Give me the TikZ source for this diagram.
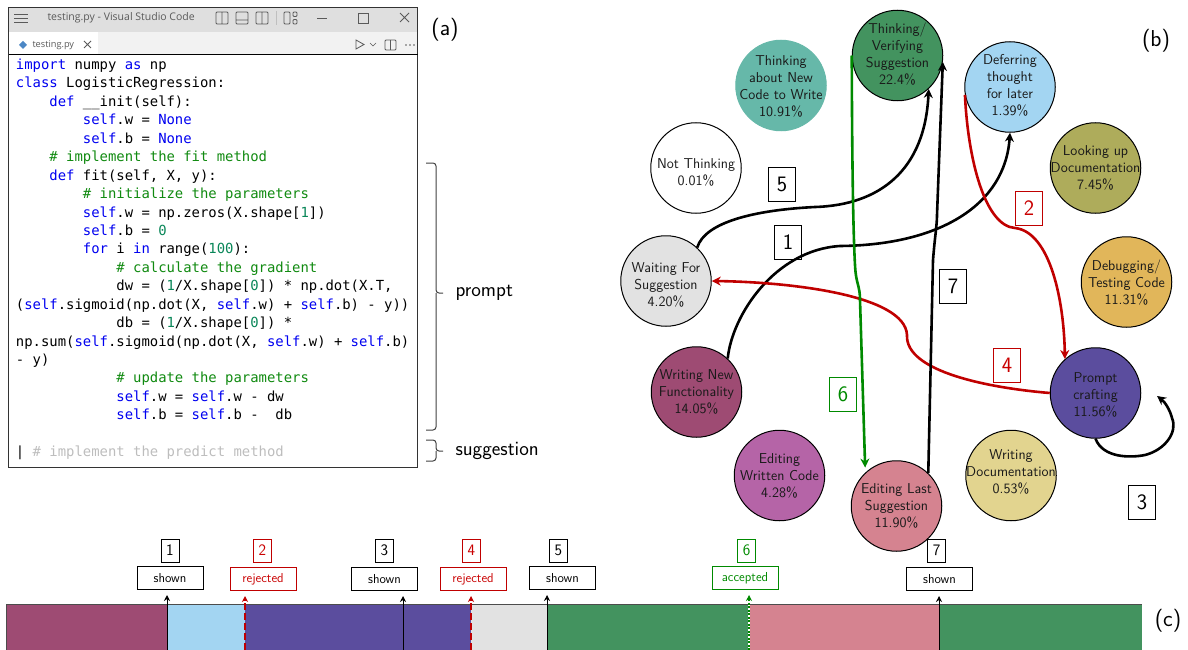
\documentclass[tikz,border=0pt]{standalone}
\usepackage{fontspec}
\usepackage{tikz}
\usetikzlibrary{
	arrows.meta,
	positioning
}
\newfontfamily\codeFont{DejaVu Sans Mono}
\newfontfamily\uiFont{Open Sans}
\definecolor{stTeal}{HTML}{66B8A9}
\definecolor{stGreen}{HTML}{43935F}
\definecolor{stBlue}{HTML}{A3D5F2}
\definecolor{stOlive}{HTML}{AEAC5B}
\definecolor{stGold}{HTML}{E1B65A}
\definecolor{stIndigo}{HTML}{5B4D9E}
\definecolor{stKhaki}{HTML}{E2D48F}
\definecolor{stPink}{HTML}{D58390}
\definecolor{stOrchid}{HTML}{B564A7}
\definecolor{stMaroon}{HTML}{9E4B73}
\definecolor{stGray}{HTML}{E2E2E2}
\definecolor{edgeRed}{HTML}{C00000}
\definecolor{edgeGreen}{HTML}{008A00}
\definecolor{codeBlue}{HTML}{0000F0}
\definecolor{codeGreen}{HTML}{108A10}
\definecolor{codeTeal}{HTML}{098658}
\definecolor{codeGhost}{HTML}{BDBDBD}
\definecolor{iconGray}{HTML}{5A5A5A}
\tikzset{every path/.append style={line width=1pt}}
\tikzset{
	state/.style={circle,draw=black,minimum size=90.5pt,inner sep=0pt},
	statetext/.style={inner sep=0pt,align=center,text=black!90,font=\sffamily\fontsize{14.3}{17}\selectfont},
	tag/.style={draw=black,minimum width=27pt,minimum height=34pt,inner sep=0pt,font=\sffamily\fontsize{22}{24}\selectfont},
	smalltag/.style={draw=black,minimum width=18pt,minimum height=23pt,inner sep=0pt,font=\sffamily\fontsize{16}{18}\selectfont},
	status/.style={draw=black,minimum width=66pt,minimum height=23pt,inner sep=0pt,font=\sffamily\fontsize{13}{15}\selectfont},
	edge/.style={line width=2.6pt,-{Stealth[length=9pt,width=9pt]}},
	marker/.style={line width=0.9pt,shorten >=5pt,-{Stealth[length=6pt,width=6pt]}},
	rejectmark/.style={marker,line width=1.5pt,edgeRed,dash pattern=on 7pt off 3pt},
	acceptmark/.style={marker,line width=1.5pt,edgeGreen,dash pattern=on 2pt off 1.5pt},
	brace/.style={line width=1pt,black!75,rounded corners=3pt},
	panel/.style={font=\sffamily\fontsize{23}{26}\selectfont,inner sep=0pt},
	side/.style={font=\sffamily\fontsize{20.4}{24}\selectfont,inner sep=0pt,anchor=west},
	icon/.style={iconGray,line width=0.8pt}
}
\newcommand{\tikzState}[5][]{\node (#3) at #2 [state,#1,label={[statetext,yshift=#4pt]center:{#5}}]{};}
\newcommand{\tikzTag}[4][]{\node (#3) at #2 [tag,#1]{#4};}
\newcommand{\tikzBar}[3]{\fill[#3] (#1,604) rectangle (#2,650);}
\newcommand{\codeKw}[1]{\textcolor{codeBlue}{#1}}
\newcommand{\codeCmt}[1]{\textcolor{codeGreen}{#1}}
\newcommand{\codeNum}[1]{\textcolor{codeTeal}{#1}}
\newcommand{\codeInd}[1]{\hspace*{#1\dimexpr 8.368pt\relax}}

\begin{document}
\begin{tikzpicture}[x=1pt,y=-1pt]
	\useasboundingbox (0,0) rectangle (1188,650);
	
	% Editor window
	\fill[gray!25] (9,8) rectangle (417,32);
	\fill[gray!10] (9,32) rectangle (417,55);
	\fill[white] (9,32) rectangle (98,55);
	\draw[black!80] (8.5,7.5) rectangle (417.5,467);
	\draw[black] (8.5,55) -- (417.5,55);
	\node (title) at (47,18) [anchor=west,inner sep=0pt,text=iconGray,font=\uiFont\fontsize{10.5}{12}\selectfont]{testing.py - Visual Studio Code};
	\node (tabname) at (32,45.5) [anchor=west,inner sep=0pt,text=iconGray,font=\uiFont\fontsize{9.2}{11}\selectfont]{testing.py};
	
	% Title bar icons
	\draw[icon] (14,14) -- (28,14) (14,18) -- (28,18) (14,22) -- (28,22);
	\draw[icon,rounded corners=1pt] (216,12) rectangle (228,24) (222,12) -- (222,24);
	\draw[icon,rounded corners=1pt] (236,12) rectangle (248,24) (236,20) -- (248,20);
	\draw[icon,rounded corners=1pt] (256,12) rectangle (268,24) (262,12) -- (262,24);
	\draw[gray!50] (276,11) -- (276,25);
	\draw[icon,rounded corners=1pt] (284,12) rectangle (290,24) (293,12) rectangle (297,16.5) (293,19.5) rectangle (297,24);
	\draw[icon] (317,18) -- (327,18);
	\draw[icon] (358,13) rectangle (368,23);
	\draw[icon] (400,13) -- (409,22) (400,22) -- (409,13);
	
	% Tab row icons
	\fill[blue!35!teal!70] (23,41) -- (27,45) -- (23,49) -- (19,45) -- cycle;
	\draw[icon] (84,41) -- (91,48) (84,48) -- (91,41);
	\draw[icon] (356,40) -- (364,44.5) -- (356,49) -- cycle;
	\draw[icon,line width=0.5pt] (370,43) -- (373,46) -- (376,43);
	\draw[icon,rounded corners=1pt] (385,40) rectangle (396,50) (390.5,40) -- (390.5,50);
	\fill[iconGray] (406,45) circle (0.8) (410,45) circle (0.8) (414,45) circle (0.8);
	
	% Code
	\node (code) at (15.5,58.5) [anchor=north west,inner sep=0pt,align=left,font=\codeFont\fontsize{13.9}{18.43}\selectfont]{%
		\codeKw{import} numpy \codeKw{as} np\\
		\codeKw{class} LogisticRegression:\\
		\codeInd{4}\codeKw{def} \_\_init(self):\\
		\codeInd{8}\codeKw{self}.w = \codeKw{None}\\
		\codeInd{8}\codeKw{self}.b = \codeKw{None}\\
		\codeInd{4}\codeCmt{\# implement the fit method}\\
		\codeInd{4}\codeKw{def} fit(self, X, y):\\
		\codeInd{8}\codeCmt{\# initialize the parameters}\\
		\codeInd{8}\codeKw{self}.w = np.zeros(X.shape[\codeNum{1}])\\
		\codeInd{8}\codeKw{self}.b = \codeNum{0}\\
		\codeInd{8}\codeKw{for} i \codeKw{in} range(\codeNum{100}):\\
		\codeInd{12}\codeCmt{\# calculate the gradient}\\
		\codeInd{12}dw = (\codeNum{1}/X.shape[\codeNum{0}]) * np.dot(X.T,\\
		(\codeKw{self}.sigmoid(np.dot(X, \codeKw{self}.w) + \codeKw{self}.b) - y))\\
		\codeInd{12}db = (\codeNum{1}/X.shape[\codeNum{0}]) *\\
		np.sum(\codeKw{self}.sigmoid(np.dot(X, \codeKw{self}.w) + \codeKw{self}.b)\\
		- y)\\
		\codeInd{12}\codeCmt{\# update the parameters}\\
		\codeInd{12}\codeKw{self}.w = \codeKw{self}.w - dw\\
		\codeInd{12}\codeKw{self}.b = \codeKw{self}.b - \ db\\
		\mbox{}\\
		| \textcolor{codeGhost}{\# implement the predict method}};
	
	% Braces and panel names
	\node (prompt) at (455,293) [side]{prompt};
	\node (suggestion) at (455,450.5) [side]{suggestion};
	\draw[brace] (426,163) -| (436,293) -- (443,293);
	\draw[brace] (426,430) -| (436,293);
	\draw[brace] (426,440) -| (436,451) -- (443,451);
	\draw[brace] (426,461) -| (436,451);
	\node (panelA) at (445,30) [panel]{(a)};
	\node (panelB) at (1156,41) [panel]{(b)};
	\node (panelC) at (1168,621) [panel]{(c)};
	
	% States
	\tikzState[fill=stTeal,draw=stTeal]{(781,85.5)}{newcode}{-1}{Thinking\\about New\\Code to Write\\10.91\%}
	\tikzState[fill=stGreen]{(897.5,55.5)}{verify}{1.5}{Thinking/\\Verifying\\Suggestion\\22.4\%}
	\tikzState[fill=stBlue]{(1010,87)}{defer}{2}{Deferring\\thought\\for later\\1.39\%}
	\tikzState{(696,168)}{notthink}{-4}{Not Thinking\\0.01\%}
	\tikzState[fill=stOlive]{(1095.5,168)}{lookup}{0}{Looking up\\Documentation\\7.45\%}
	\tikzState[fill=stGray]{(666,281)}{waiting}{-4}{Waiting For\\Suggestion\\4.20\%}
	\tikzState[fill=stGold]{(1126.5,282)}{debug}{-1}{Debugging/\\Testing Code\\11.31\%}
	\tikzState[fill=stMaroon]{(696.5,392)}{writenew}{0}{Writing New\\Functionality\\14.05\%}
	\tikzState[fill=stIndigo]{(1095.5,393)}{crafting}{-2}{Prompt\\crafting\\11.56\%}
	\tikzState[fill=stOrchid]{(779.5,475.5)}{editcode}{0}{Editing\\Written Code\\4.28\%}
	\tikzState[fill=stKhaki]{(1011,475.5)}{writedoc}{4}{Writing\\Documentation\\0.53\%}
	\tikzState[fill=stPink]{(896.5,506)}{editlast}{0}{Editing Last\\Suggestion\\11.90\%}
	
	% Transitions
	\coordinate (loopend) at (1157,396);
	\draw[edge] (waiting.47) .. controls (705,222) and (755,210) .. (815,207) .. controls (880,205) and (925,170) .. (verify.-47);
	\draw[edge] (writenew.47) .. controls (732,315) and (775,250) .. (840,246) .. controls (940,245) and (1005,205) .. (defer.south);
	\draw[edge,edgeRed] (defer.190) .. controls (968,160) and (985,226) .. (1015,228) .. controls (1050,232) and (1064,300) .. (crafting.132);
	\draw[edge] (crafting.south) .. controls (1103,458) and (1130,458) .. (1145,455) .. controls (1165,450) and (1178,432) .. (1172,418) .. controls (1170,410) and (1165,402) .. (loopend);
	\draw[edge,edgeRed] (crafting.west) .. controls (990,388) and (905,372) .. (907,335) .. controls (905,295) and (790,282) .. (waiting.east);
	\draw[edge,edgeGreen,shorten >=5pt] (verify.west) .. controls (852,150) and (853,230) .. (855,265) .. controls (856,285) and (860,285) .. (860,300) -- (editlast.133);
	\draw[edge] (editlast.46) -- (933,260) .. controls (935,235) and (937,225) .. (937,215) -- (verify.-8);
	
	% Numbers on the transitions
	\tikzTag{(782,184.5)}{t5}{5}
	\tikzTag{(788,242.5)}{t1}{1}
	\tikzTag[edgeRed,text=edgeRed!85!red]{(1029,208)}{t2}{2}
	\tikzTag{(953,286.5)}{t7}{7}
	\tikzTag[edgeRed,text=edgeRed!85!red]{(1007,365.5)}{t4}{4}
	\tikzTag{(1142,502.5)}{t3}{3}
	\tikzTag[edgeGreen,text=edgeGreen]{(843,394.5)}{t6}{6}
	
	% Timeline
	\tikzBar{6}{167}{stMaroon}
	\tikzBar{167}{245}{stBlue}
	\tikzBar{245}{471}{stIndigo}
	\tikzBar{471}{547}{stGray}
	\tikzBar{547}{749}{stGreen}
	\tikzBar{749}{939}{stPink}
	\tikzBar{939}{1142}{stGreen}
	\draw[black!70] (6,650) -- (6,604) -- (1142,604);
	
	% Timeline status boxes
	\node (s1) at (170,578) [status]{shown};
	\node (s2) at (263,579) [status,edgeRed,text=edgeRed!85!red]{rejected};
	\node (s3) at (384.5,579) [status]{shown};
	\node (s4) at (473,579) [status,edgeRed,text=edgeRed!85!red]{rejected};
	\node (s5) at (562.5,578) [status]{shown};
	\node (s6) at (745,578) [status,edgeGreen,text=edgeGreen]{accepted};
	\node (s7) at (939.5,579) [status]{shown};
	
	\node (n1) [smalltag] at (170,550.5) {1};
	\node (n2) [smalltag,edgeRed,text=edgeRed!85!red] at (262.5,550.5) {2};
	\node (n3) [smalltag] at (384.5,550.5) {3};
	\node (n4) [smalltag,edgeRed,text=edgeRed!85!red] at (471.5,550.5) {4};
	\node (n5) [smalltag] at (558.5,550.5) {5};
	\node (n6) [smalltag,edgeGreen,text=edgeGreen] at (746.5,550.5) {6};
	\node (n7) [smalltag] at (936.5,550.5) {7};
	
	\coordinate (m1) at (167,650);
	\coordinate (m2) at (245,650);
	\coordinate (m3) at (403,650);
	\coordinate (m4) at (471,650);
	\coordinate (m5) at (547,650);
	\coordinate (m6) at (749,650);
	\coordinate (m7) at (939,650);
	\draw[marker] (m1) -- (m1 |- s1.south);
	\draw[rejectmark] (m2) -- (m2 |- s2.south);
	\draw[marker] (m3) -- (m3 |- s3.south);
	\draw[rejectmark] (m4) -- (m4 |- s4.south);
	\draw[marker] (m5) -- (m5 |- s5.south);
	\draw[white,line width=2.4pt] (m6) -- (749,604);
	\draw[acceptmark] (m6) -- (m6 |- s6.south);
	\draw[marker] (m7) -- (m7 |- s7.south);
\end{tikzpicture}
\end{document}
